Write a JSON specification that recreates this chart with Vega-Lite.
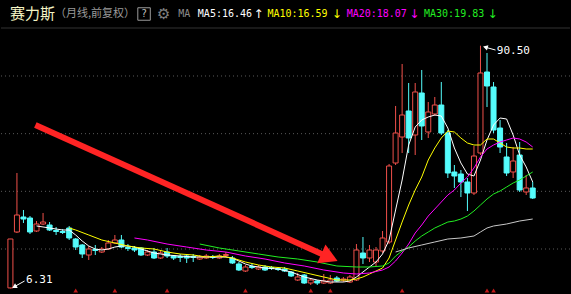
{
"$schema":"https://vega.github.io/schema/vega-lite/v6.json",
"width":571,"height":294,
"autosize":{"type":"fit","contains":"padding"},
"padding":0,
"background":"#000000",
"config":{"view":{"stroke":null}},
"resolve":{"scale":{"color":"independent","stroke":"independent","fill":"independent"}},
"datasets":{
"grid":[{"g":20},{"g":40},{"g":60},{"g":80}],
"k":[
{"i":0,"o":6.5,"h":23.5,"l":6.31,"c":23.47,"d":"up"},
{"i":1,"o":25.9,"h":46.36,"l":25.55,"c":31.79,"d":"up"},
{"i":2,"o":31.1,"h":33.53,"l":29.02,"c":30.4,"d":"down"},
{"i":3,"o":30.75,"h":31.44,"l":25.2,"c":25.9,"d":"down"},
{"i":4,"o":26.24,"h":29.71,"l":25.9,"c":28.67,"d":"up"},
{"i":5,"o":28.67,"h":32.49,"l":28.32,"c":29.36,"d":"up"},
{"i":6,"o":28.32,"h":29.36,"l":26.24,"c":26.59,"d":"down"},
{"i":7,"o":26.42,"h":27.63,"l":24.86,"c":26.07,"d":"down"},
{"i":8,"o":26.07,"h":26.94,"l":25.2,"c":25.72,"d":"down"},
{"i":9,"o":27.28,"h":27.98,"l":23.12,"c":23.82,"d":"down"},
{"i":10,"o":23.47,"h":23.82,"l":19.65,"c":20.69,"d":"down"},
{"i":11,"o":21.39,"h":21.73,"l":16.88,"c":18.27,"d":"down"},
{"i":12,"o":17.92,"h":21.04,"l":16.19,"c":20.0,"d":"up"},
{"i":13,"o":19.83,"h":21.39,"l":17.92,"c":19.48,"d":"down"},
{"i":14,"o":18.96,"h":20.69,"l":18.61,"c":20.0,"d":"up"},
{"i":15,"o":20.0,"h":23.12,"l":19.65,"c":22.08,"d":"up"},
{"i":16,"o":22.08,"h":24.86,"l":21.73,"c":23.12,"d":"up"},
{"i":17,"o":23.12,"h":24.86,"l":20.35,"c":20.69,"d":"down"},
{"i":18,"o":20.52,"h":21.73,"l":19.31,"c":20.17,"d":"down"},
{"i":19,"o":20.35,"h":21.04,"l":18.96,"c":19.65,"d":"down"},
{"i":20,"o":20.35,"h":20.69,"l":17.57,"c":17.92,"d":"down"},
{"i":21,"o":17.92,"h":19.65,"l":17.57,"c":18.96,"d":"up"},
{"i":22,"o":18.96,"h":20.35,"l":16.53,"c":16.88,"d":"down"},
{"i":23,"o":16.88,"h":19.31,"l":16.53,"c":18.61,"d":"up"},
{"i":24,"o":18.96,"h":20.35,"l":16.88,"c":17.57,"d":"down"},
{"i":25,"o":17.57,"h":17.92,"l":16.19,"c":16.88,"d":"down"},
{"i":26,"o":17.4,"h":18.27,"l":15.49,"c":17.05,"d":"down"},
{"i":27,"o":17.57,"h":17.92,"l":15.15,"c":16.88,"d":"down"},
{"i":28,"o":17.4,"h":18.27,"l":15.49,"c":17.05,"d":"down"},
{"i":29,"o":16.53,"h":17.92,"l":16.19,"c":17.23,"d":"up"},
{"i":30,"o":16.88,"h":18.27,"l":16.53,"c":17.57,"d":"up"},
{"i":31,"o":17.23,"h":17.92,"l":16.53,"c":17.05,"d":"down"},
{"i":32,"o":16.88,"h":18.27,"l":16.53,"c":17.57,"d":"up"},
{"i":33,"o":17.75,"h":18.96,"l":17.23,"c":18.1,"d":"up"},
{"i":34,"o":16.88,"h":17.57,"l":14.8,"c":15.15,"d":"down"},
{"i":35,"o":14.8,"h":15.49,"l":12.37,"c":12.72,"d":"down"},
{"i":36,"o":12.37,"h":14.45,"l":12.03,"c":13.76,"d":"up"},
{"i":37,"o":13.93,"h":14.8,"l":13.06,"c":13.58,"d":"down"},
{"i":38,"o":13.06,"h":14.45,"l":12.72,"c":13.76,"d":"up"},
{"i":39,"o":13.76,"h":14.45,"l":12.37,"c":12.72,"d":"down"},
{"i":40,"o":13.58,"h":14.11,"l":12.72,"c":13.24,"d":"down"},
{"i":41,"o":13.24,"h":13.76,"l":12.37,"c":12.89,"d":"down"},
{"i":42,"o":13.06,"h":13.76,"l":12.03,"c":12.37,"d":"down"},
{"i":43,"o":12.03,"h":12.37,"l":10.29,"c":10.64,"d":"down"},
{"i":44,"o":9.25,"h":11.68,"l":8.91,"c":10.29,"d":"up"},
{"i":45,"o":10.98,"h":11.33,"l":7.87,"c":8.21,"d":"down"},
{"i":46,"o":8.21,"h":9.94,"l":7.52,"c":9.25,"d":"up"},
{"i":47,"o":8.91,"h":9.25,"l":7.52,"c":8.21,"d":"down"},
{"i":48,"o":8.21,"h":11.33,"l":7.87,"c":8.91,"d":"up"},
{"i":49,"o":8.21,"h":10.98,"l":7.87,"c":9.25,"d":"up"},
{"i":50,"o":9.94,"h":10.64,"l":8.56,"c":8.9,"d":"down"},
{"i":51,"o":9.25,"h":10.29,"l":8.56,"c":9.6,"d":"up"},
{"i":52,"o":8.56,"h":10.98,"l":8.21,"c":10.29,"d":"up"},
{"i":53,"o":9.25,"h":21.73,"l":8.9,"c":19.65,"d":"up"},
{"i":54,"o":18.61,"h":24.16,"l":14.8,"c":16.88,"d":"down"},
{"i":55,"o":16.88,"h":21.39,"l":15.49,"c":19.65,"d":"up"},
{"i":56,"o":15.49,"h":20.69,"l":14.11,"c":19.65,"d":"up"},
{"i":57,"o":19.31,"h":26.24,"l":18.61,"c":23.82,"d":"up"},
{"i":58,"o":22.43,"h":49.48,"l":21.73,"c":48.79,"d":"up"},
{"i":59,"o":49.83,"h":69.6,"l":49.13,"c":60.23,"d":"up"},
{"i":60,"o":58.84,"h":84.16,"l":53.29,"c":66.47,"d":"up"},
{"i":61,"o":67.86,"h":77.57,"l":53.29,"c":58.5,"d":"down"},
{"i":62,"o":59.54,"h":77.57,"l":52.6,"c":74.45,"d":"up"},
{"i":63,"o":74.1,"h":82.08,"l":57.8,"c":62.66,"d":"down"},
{"i":64,"o":60.58,"h":70.98,"l":58.5,"c":67.51,"d":"up"},
{"i":65,"o":66.82,"h":72.72,"l":66.12,"c":69.94,"d":"up"},
{"i":66,"o":69.94,"h":77.92,"l":59.54,"c":60.23,"d":"down"},
{"i":67,"o":60.23,"h":61.27,"l":44.62,"c":46.36,"d":"down"},
{"i":68,"o":46.71,"h":49.13,"l":41.16,"c":45.32,"d":"down"},
{"i":69,"o":46.01,"h":47.4,"l":38.03,"c":43.24,"d":"down"},
{"i":70,"o":43.24,"h":44.62,"l":33.18,"c":39.42,"d":"down"},
{"i":71,"o":39.42,"h":55.72,"l":38.73,"c":52.25,"d":"up"},
{"i":72,"o":53.29,"h":90.5,"l":52.6,"c":81.04,"d":"up"},
{"i":73,"o":81.39,"h":87.97,"l":69.24,"c":76.53,"d":"down"},
{"i":74,"o":76.18,"h":77.92,"l":60.23,"c":61.27,"d":"down"},
{"i":75,"o":61.96,"h":64.74,"l":53.29,"c":55.37,"d":"down"},
{"i":76,"o":51.91,"h":56.76,"l":45.32,"c":46.36,"d":"down"},
{"i":77,"o":46.71,"h":55.37,"l":44.62,"c":50.52,"d":"up"},
{"i":78,"o":52.6,"h":57.11,"l":39.77,"c":40.46,"d":"down"},
{"i":79,"o":39.77,"h":45.66,"l":38.73,"c":41.16,"d":"up"},
{"i":80,"o":41.16,"h":43.24,"l":37.34,"c":37.69,"d":"down"}
],
"ma":[
{"i":4,"v":28.0,"m":"MA5"},{"i":6,"v":27.28,"m":"MA5"},{"i":8,"v":26.59,"m":"MA5"},{"i":9,"v":26.59,"m":"MA5"},{"i":10,"v":24.86,"m":"MA5"},{"i":11,"v":22.77,"m":"MA5"},{"i":12,"v":21.04,"m":"MA5"},{"i":13,"v":20.0,"m":"MA5"},{"i":14,"v":19.65,"m":"MA5"},{"i":15,"v":20.0,"m":"MA5"},{"i":16,"v":20.69,"m":"MA5"},{"i":17,"v":21.04,"m":"MA5"},{"i":18,"v":21.04,"m":"MA5"},{"i":19,"v":20.69,"m":"MA5"},{"i":20,"v":20.0,"m":"MA5"},{"i":21,"v":19.31,"m":"MA5"},{"i":22,"v":18.61,"m":"MA5"},{"i":23,"v":18.27,"m":"MA5"},{"i":24,"v":17.92,"m":"MA5"},{"i":26,"v":17.57,"m":"MA5"},{"i":28,"v":17.23,"m":"MA5"},{"i":30,"v":17.23,"m":"MA5"},{"i":32,"v":17.23,"m":"MA5"},{"i":33,"v":17.23,"m":"MA5"},{"i":34,"v":16.88,"m":"MA5"},{"i":35,"v":15.84,"m":"MA5"},{"i":36,"v":14.8,"m":"MA5"},{"i":37,"v":14.11,"m":"MA5"},{"i":38,"v":13.76,"m":"MA5"},{"i":39,"v":13.41,"m":"MA5"},{"i":41,"v":13.06,"m":"MA5"},{"i":43,"v":12.03,"m":"MA5"},{"i":45,"v":10.29,"m":"MA5"},{"i":47,"v":9.25,"m":"MA5"},{"i":49,"v":8.56,"m":"MA5"},{"i":51,"v":8.56,"m":"MA5"},{"i":52,"v":8.9,"m":"MA5"},{"i":53,"v":10.29,"m":"MA5"},{"i":54,"v":12.03,"m":"MA5"},{"i":55,"v":13.76,"m":"MA5"},{"i":56,"v":15.49,"m":"MA5"},{"i":57,"v":18.27,"m":"MA5"},{"i":58,"v":23.12,"m":"MA5"},{"i":59,"v":33.53,"m":"MA5"},{"i":60,"v":43.93,"m":"MA5"},{"i":61,"v":56.07,"m":"MA5"},{"i":62,"v":62.31,"m":"MA5"},{"i":63,"v":64.74,"m":"MA5"},{"i":64,"v":65.78,"m":"MA5"},{"i":65,"v":66.47,"m":"MA5"},{"i":66,"v":66.12,"m":"MA5"},{"i":67,"v":61.96,"m":"MA5"},{"i":68,"v":55.03,"m":"MA5"},{"i":69,"v":49.83,"m":"MA5"},{"i":70,"v":46.01,"m":"MA5"},{"i":71,"v":45.32,"m":"MA5"},{"i":72,"v":50.87,"m":"MA5"},{"i":73,"v":57.8,"m":"MA5"},{"i":74,"v":63.01,"m":"MA5"},{"i":75,"v":65.43,"m":"MA5"},{"i":76,"v":65.09,"m":"MA5"},{"i":77,"v":59.54,"m":"MA5"},{"i":78,"v":52.6,"m":"MA5"},{"i":79,"v":48.44,"m":"MA5"},{"i":80,"v":43.24,"m":"MA5"},
{"i":9,"v":27.28,"m":"MA10"},{"i":10,"v":26.59,"m":"MA10"},{"i":12,"v":24.86,"m":"MA10"},{"i":14,"v":23.12,"m":"MA10"},{"i":16,"v":22.08,"m":"MA10"},{"i":18,"v":21.04,"m":"MA10"},{"i":20,"v":20.35,"m":"MA10"},{"i":22,"v":20.0,"m":"MA10"},{"i":24,"v":18.96,"m":"MA10"},{"i":26,"v":18.27,"m":"MA10"},{"i":28,"v":17.92,"m":"MA10"},{"i":30,"v":17.23,"m":"MA10"},{"i":32,"v":17.57,"m":"MA10"},{"i":34,"v":16.88,"m":"MA10"},{"i":36,"v":15.49,"m":"MA10"},{"i":38,"v":14.45,"m":"MA10"},{"i":40,"v":13.76,"m":"MA10"},{"i":42,"v":13.41,"m":"MA10"},{"i":44,"v":12.37,"m":"MA10"},{"i":46,"v":11.33,"m":"MA10"},{"i":48,"v":10.29,"m":"MA10"},{"i":50,"v":9.25,"m":"MA10"},{"i":52,"v":9.25,"m":"MA10"},{"i":53,"v":9.6,"m":"MA10"},{"i":54,"v":10.29,"m":"MA10"},{"i":55,"v":11.33,"m":"MA10"},{"i":56,"v":12.37,"m":"MA10"},{"i":57,"v":13.41,"m":"MA10"},{"i":58,"v":16.88,"m":"MA10"},{"i":59,"v":23.12,"m":"MA10"},{"i":60,"v":29.36,"m":"MA10"},{"i":61,"v":35.26,"m":"MA10"},{"i":62,"v":40.46,"m":"MA10"},{"i":63,"v":44.97,"m":"MA10"},{"i":64,"v":50.87,"m":"MA10"},{"i":65,"v":55.03,"m":"MA10"},{"i":66,"v":58.5,"m":"MA10"},{"i":67,"v":60.92,"m":"MA10"},{"i":68,"v":60.58,"m":"MA10"},{"i":69,"v":58.5,"m":"MA10"},{"i":70,"v":56.76,"m":"MA10"},{"i":71,"v":56.07,"m":"MA10"},{"i":72,"v":56.07,"m":"MA10"},{"i":73,"v":58.15,"m":"MA10"},{"i":74,"v":58.15,"m":"MA10"},{"i":75,"v":56.76,"m":"MA10"},{"i":76,"v":55.37,"m":"MA10"},{"i":77,"v":55.03,"m":"MA10"},{"i":78,"v":55.03,"m":"MA10"},{"i":79,"v":54.68,"m":"MA10"},{"i":80,"v":54.68,"m":"MA10"},
{"i":19,"v":23.82,"m":"MA20"},{"i":21,"v":23.12,"m":"MA20"},{"i":24,"v":21.73,"m":"MA20"},{"i":27,"v":20.69,"m":"MA20"},{"i":30,"v":19.65,"m":"MA20"},{"i":33,"v":18.96,"m":"MA20"},{"i":36,"v":17.57,"m":"MA20"},{"i":39,"v":16.53,"m":"MA20"},{"i":42,"v":15.15,"m":"MA20"},{"i":45,"v":14.11,"m":"MA20"},{"i":48,"v":12.72,"m":"MA20"},{"i":51,"v":11.68,"m":"MA20"},{"i":53,"v":11.33,"m":"MA20"},{"i":55,"v":11.68,"m":"MA20"},{"i":57,"v":12.72,"m":"MA20"},{"i":58,"v":13.76,"m":"MA20"},{"i":59,"v":15.84,"m":"MA20"},{"i":60,"v":18.61,"m":"MA20"},{"i":61,"v":21.73,"m":"MA20"},{"i":62,"v":25.55,"m":"MA20"},{"i":63,"v":28.32,"m":"MA20"},{"i":64,"v":31.44,"m":"MA20"},{"i":65,"v":33.87,"m":"MA20"},{"i":66,"v":36.3,"m":"MA20"},{"i":67,"v":38.73,"m":"MA20"},{"i":68,"v":40.46,"m":"MA20"},{"i":69,"v":42.89,"m":"MA20"},{"i":70,"v":44.97,"m":"MA20"},{"i":71,"v":48.09,"m":"MA20"},{"i":72,"v":51.91,"m":"MA20"},{"i":73,"v":54.68,"m":"MA20"},{"i":74,"v":56.07,"m":"MA20"},{"i":75,"v":57.11,"m":"MA20"},{"i":76,"v":57.8,"m":"MA20"},{"i":77,"v":58.5,"m":"MA20"},{"i":78,"v":58.15,"m":"MA20"},{"i":79,"v":57.11,"m":"MA20"},{"i":80,"v":55.37,"m":"MA20"},
{"i":29,"v":21.73,"m":"MA30"},{"i":32,"v":20.35,"m":"MA30"},{"i":35,"v":19.31,"m":"MA30"},{"i":38,"v":18.27,"m":"MA30"},{"i":41,"v":17.23,"m":"MA30"},{"i":44,"v":16.53,"m":"MA30"},{"i":47,"v":15.49,"m":"MA30"},{"i":50,"v":14.11,"m":"MA30"},{"i":53,"v":13.76,"m":"MA30"},{"i":55,"v":13.76,"m":"MA30"},{"i":57,"v":14.11,"m":"MA30"},{"i":58,"v":15.15,"m":"MA30"},{"i":59,"v":17.57,"m":"MA30"},{"i":60,"v":19.31,"m":"MA30"},{"i":61,"v":20.69,"m":"MA30"},{"i":62,"v":22.77,"m":"MA30"},{"i":63,"v":24.51,"m":"MA30"},{"i":64,"v":25.9,"m":"MA30"},{"i":65,"v":27.28,"m":"MA30"},{"i":66,"v":28.32,"m":"MA30"},{"i":67,"v":29.36,"m":"MA30"},{"i":68,"v":29.71,"m":"MA30"},{"i":69,"v":30.4,"m":"MA30"},{"i":70,"v":31.44,"m":"MA30"},{"i":71,"v":33.18,"m":"MA30"},{"i":72,"v":35.26,"m":"MA30"},{"i":73,"v":37.34,"m":"MA30"},{"i":74,"v":39.07,"m":"MA30"},{"i":75,"v":40.11,"m":"MA30"},{"i":76,"v":41.5,"m":"MA30"},{"i":77,"v":42.89,"m":"MA30"},{"i":78,"v":43.93,"m":"MA30"},{"i":79,"v":45.32,"m":"MA30"},{"i":80,"v":46.71,"m":"MA30"},
{"i":59,"v":18.96,"m":"MA60"},{"i":61,"v":20.35,"m":"MA60"},{"i":63,"v":21.39,"m":"MA60"},{"i":65,"v":22.43,"m":"MA60"},{"i":67,"v":23.47,"m":"MA60"},{"i":69,"v":23.82,"m":"MA60"},{"i":71,"v":24.51,"m":"MA60"},{"i":72,"v":25.9,"m":"MA60"},{"i":73,"v":27.28,"m":"MA60"},{"i":74,"v":27.98,"m":"MA60"},{"i":76,"v":28.67,"m":"MA60"},{"i":78,"v":29.71,"m":"MA60"},{"i":80,"v":30.4,"m":"MA60"}
],
"marks":[{"i":10},{"i":16},{"i":24},{"i":36},{"i":46},{"i":49},{"i":60},{"i":73},{"i":74}]
},
"layer":[
{"data":{"name":"grid"},"mark":{"type":"rule","color":"#5a5a5a","strokeDash":[1,3],"strokeWidth":1},
 "encoding":{"y":{"field":"g","type":"quantitative","scale":{"domain":[4.396,106.355],"nice":false,"zero":false},"axis":null}}},
{"data":{"values":[{}]},"mark":{"type":"rule","color":"#333333","strokeWidth":1},
 "encoding":{"y":{"datum":96.64,"type":"quantitative","scale":{"domain":[4.396,106.355],"nice":false,"zero":false},"axis":null}}},
{"data":{"name":"k"},"mark":{"type":"rule","strokeWidth":1},
 "encoding":{
  "x":{"field":"i","type":"quantitative","scale":{"domain":[-0.675,84.945],"nice":false,"zero":false},"axis":null},
  "y":{"field":"l","type":"quantitative","scale":{"domain":[4.396,106.355],"nice":false,"zero":false},"axis":null},
  "y2":{"field":"h"},
  "stroke":{"field":"d","type":"nominal","scale":{"domain":["up","down"],"range":["#f0504a","#54fcfc"]},"legend":null}}},
{"data":{"name":"k"},"mark":{"type":"bar","size":5,"strokeWidth":1},
 "encoding":{
  "x":{"field":"i","type":"quantitative","scale":{"domain":[-0.675,84.945],"nice":false,"zero":false},"axis":null},
  "y":{"field":"o","type":"quantitative","scale":{"domain":[4.396,106.355],"nice":false,"zero":false},"axis":null},
  "y2":{"field":"c"},
  "fill":{"field":"d","type":"nominal","scale":{"domain":["up","down"],"range":["#000000","#54fcfc"]},"legend":null},
  "stroke":{"field":"d","type":"nominal","scale":{"domain":["up","down"],"range":["#f0504a","#54fcfc"]},"legend":null}}},
{"data":{"name":"ma"},"mark":{"type":"line","strokeWidth":1},
 "encoding":{
  "x":{"field":"i","type":"quantitative","scale":{"domain":[-0.675,84.945],"nice":false,"zero":false},"axis":null},
  "y":{"field":"v","type":"quantitative","scale":{"domain":[4.396,106.355],"nice":false,"zero":false},"axis":null},
  "color":{"field":"m","type":"nominal","scale":{"domain":["MA5","MA10","MA20","MA30","MA60"],"range":["#ffffff","#ffff00","#ff00ff","#22ee22","#c8c8c8"]},"legend":null},
  "order":{"field":"i","type":"quantitative"}}},
{"data":{"values":[{}]},"mark":{"type":"rule","color":"#ff2424","strokeWidth":6,"strokeCap":"butt"},
 "encoding":{
  "x":{"datum":3.82,"type":"quantitative","scale":{"domain":[-0.675,84.945],"nice":false,"zero":false},"axis":null},
  "x2":{"datum":48.87},
  "y":{"datum":63.0,"type":"quantitative","scale":{"domain":[4.396,106.355],"nice":false,"zero":false},"axis":null},
  "y2":{"datum":17.09}}},
{"data":{"values":[{}]},"mark":{"type":"point","shape":"triangle-right","filled":true,"color":"#ff2424","opacity":1,"size":420,"angle":23.75},
 "encoding":{
  "x":{"datum":48.87,"type":"quantitative","scale":{"domain":[-0.675,84.945],"nice":false,"zero":false},"axis":null},
  "y":{"datum":17.09,"type":"quantitative","scale":{"domain":[4.396,106.355],"nice":false,"zero":false},"axis":null}}},
{"data":{"name":"marks"},"mark":{"type":"point","shape":"triangle-up","filled":true,"color":"#c01818","opacity":1,"size":22},
 "encoding":{
  "x":{"field":"i","type":"quantitative","scale":{"domain":[-0.675,84.945],"nice":false,"zero":false},"axis":null},
  "y":{"datum":5.6,"type":"quantitative","scale":{"domain":[4.396,106.355],"nice":false,"zero":false},"axis":null}}},
{"data":{"values":[{}]},"mark":{"type":"rule","color":"#ffffff","strokeWidth":1},
 "encoding":{
  "x":{"datum":0.52,"type":"quantitative","scale":{"domain":[-0.675,84.945],"nice":false,"zero":false},"axis":null},
  "x2":{"datum":2.17},
  "y":{"datum":6.83,"type":"quantitative","scale":{"domain":[4.396,106.355],"nice":false,"zero":false},"axis":null},
  "y2":{"datum":8.9}}},
{"data":{"values":[{}]},"mark":{"type":"point","shape":"triangle-left","filled":true,"color":"#ffffff","opacity":1,"size":30,"angle":-29},
 "encoding":{
  "x":{"datum":0.6,"type":"quantitative","scale":{"domain":[-0.675,84.945],"nice":false,"zero":false},"axis":null},
  "y":{"datum":6.9,"type":"quantitative","scale":{"domain":[4.396,106.355],"nice":false,"zero":false},"axis":null}}},
{"data":{"values":[{}]},"mark":{"type":"text","text":"6.31","color":"#ffffff","font":"DejaVu Sans Mono","fontSize":11,"align":"left","baseline":"middle"},
 "encoding":{
  "x":{"datum":2.4,"type":"quantitative","scale":{"domain":[-0.675,84.945],"nice":false,"zero":false},"axis":null},
  "y":{"datum":9.25,"type":"quantitative","scale":{"domain":[4.396,106.355],"nice":false,"zero":false},"axis":null}}},
{"data":{"values":[{}]},"mark":{"type":"rule","color":"#ffffff","strokeWidth":1},
 "encoding":{
  "x":{"datum":72.65,"type":"quantitative","scale":{"domain":[-0.675,84.945],"nice":false,"zero":false},"axis":null},
  "x2":{"datum":74.3},
  "y":{"datum":90.05,"type":"quantitative","scale":{"domain":[4.396,106.355],"nice":false,"zero":false},"axis":null},
  "y2":{"datum":89.0}}},
{"data":{"values":[{}]},"mark":{"type":"point","shape":"triangle-left","filled":true,"color":"#ffffff","opacity":1,"size":30,"angle":15},
 "encoding":{
  "x":{"datum":72.75,"type":"quantitative","scale":{"domain":[-0.675,84.945],"nice":false,"zero":false},"axis":null},
  "y":{"datum":90.0,"type":"quantitative","scale":{"domain":[4.396,106.355],"nice":false,"zero":false},"axis":null}}},
{"data":{"values":[{}]},"mark":{"type":"text","text":"90.50","color":"#ffffff","font":"DejaVu Sans Mono","fontSize":11,"align":"left","baseline":"middle"},
 "encoding":{
  "x":{"datum":74.5,"type":"quantitative","scale":{"domain":[-0.675,84.945],"nice":false,"zero":false},"axis":null},
  "y":{"datum":88.67,"type":"quantitative","scale":{"domain":[4.396,106.355],"nice":false,"zero":false},"axis":null}}},
{"data":{"values":[{}]},"mark":{"type":"text","text":"赛力斯","color":"#f4f4c4","font":"Noto Sans CJK SC","fontSize":15,"align":"left","baseline":"middle"},
 "encoding":{
  "x":{"datum":-0.07,"type":"quantitative","scale":{"domain":[-0.675,84.945],"nice":false,"zero":false},"axis":null},
  "y":{"datum":101.67,"type":"quantitative","scale":{"domain":[4.396,106.355],"nice":false,"zero":false},"axis":null}}},
{"data":{"values":[{}]},"mark":{"type":"text","text":"（月线,前复权）","color":"#9a9a9a","font":"Noto Sans CJK SC","fontSize":11,"align":"left","baseline":"middle"},
 "encoding":{
  "x":{"datum":6.82,"type":"quantitative","scale":{"domain":[-0.675,84.945],"nice":false,"zero":false},"axis":null},
  "y":{"datum":101.67,"type":"quantitative","scale":{"domain":[4.396,106.355],"nice":false,"zero":false},"axis":null}}},
{"data":{"values":[{}]},"mark":{"type":"point","shape":"square","filled":false,"color":"#9a9a9a","opacity":1,"size":156,"strokeWidth":1},
 "encoding":{
  "x":{"datum":20.47,"type":"quantitative","scale":{"domain":[-0.675,84.945],"nice":false,"zero":false},"axis":null},
  "y":{"datum":101.5,"type":"quantitative","scale":{"domain":[4.396,106.355],"nice":false,"zero":false},"axis":null}}},
{"data":{"values":[{}]},"mark":{"type":"text","text":"?","color":"#bbbbbb","font":"DejaVu Sans","fontSize":10,"align":"center","baseline":"middle"},
 "encoding":{
  "x":{"datum":20.47,"type":"quantitative","scale":{"domain":[-0.675,84.945],"nice":false,"zero":false},"axis":null},
  "y":{"datum":101.5,"type":"quantitative","scale":{"domain":[4.396,106.355],"nice":false,"zero":false},"axis":null}}},
{"data":{"values":[{}]},"mark":{"type":"text","text":"⚙","color":"#808080","font":"DejaVu Sans","fontSize":15,"align":"center","baseline":"middle"},
 "encoding":{
  "x":{"datum":23.47,"type":"quantitative","scale":{"domain":[-0.675,84.945],"nice":false,"zero":false},"axis":null},
  "y":{"datum":101.67,"type":"quantitative","scale":{"domain":[4.396,106.355],"nice":false,"zero":false},"axis":null}}},
{"data":{"values":[{}]},"mark":{"type":"text","text":"MA","color":"#8c8c8c","font":"DejaVu Sans Mono","fontSize":10,"align":"left","baseline":"middle"},
 "encoding":{
  "x":{"datum":25.72,"type":"quantitative","scale":{"domain":[-0.675,84.945],"nice":false,"zero":false},"axis":null},
  "y":{"datum":101.67,"type":"quantitative","scale":{"domain":[4.396,106.355],"nice":false,"zero":false},"axis":null}}},
{"data":{"values":[{}]},"mark":{"type":"text","text":"MA5:16.46","color":"#ffffff","font":"DejaVu Sans Mono","fontSize":10,"align":"left","baseline":"middle"},
 "encoding":{
  "x":{"datum":28.71,"type":"quantitative","scale":{"domain":[-0.675,84.945],"nice":false,"zero":false},"axis":null},
  "y":{"datum":101.67,"type":"quantitative","scale":{"domain":[4.396,106.355],"nice":false,"zero":false},"axis":null}}},
{"data":{"values":[{}]},"mark":{"type":"text","text":"↑","color":"#ffffff","font":"DejaVu Sans","fontSize":12,"align":"center","baseline":"middle"},
 "encoding":{
  "x":{"datum":38.01,"type":"quantitative","scale":{"domain":[-0.675,84.945],"nice":false,"zero":false},"axis":null},
  "y":{"datum":101.67,"type":"quantitative","scale":{"domain":[4.396,106.355],"nice":false,"zero":false},"axis":null}}},
{"data":{"values":[{}]},"mark":{"type":"text","text":"MA10:16.59","color":"#ffff00","font":"DejaVu Sans Mono","fontSize":10,"align":"left","baseline":"middle"},
 "encoding":{
  "x":{"datum":39.36,"type":"quantitative","scale":{"domain":[-0.675,84.945],"nice":false,"zero":false},"axis":null},
  "y":{"datum":101.67,"type":"quantitative","scale":{"domain":[4.396,106.355],"nice":false,"zero":false},"axis":null}}},
{"data":{"values":[{}]},"mark":{"type":"text","text":"↓","color":"#ffff00","font":"DejaVu Sans","fontSize":12,"align":"center","baseline":"middle"},
 "encoding":{
  "x":{"datum":50.0,"type":"quantitative","scale":{"domain":[-0.675,84.945],"nice":false,"zero":false},"axis":null},
  "y":{"datum":101.67,"type":"quantitative","scale":{"domain":[4.396,106.355],"nice":false,"zero":false},"axis":null}}},
{"data":{"values":[{}]},"mark":{"type":"text","text":"MA20:18.07","color":"#ff00ff","font":"DejaVu Sans Mono","fontSize":10,"align":"left","baseline":"middle"},
 "encoding":{
  "x":{"datum":51.5,"type":"quantitative","scale":{"domain":[-0.675,84.945],"nice":false,"zero":false},"axis":null},
  "y":{"datum":101.67,"type":"quantitative","scale":{"domain":[4.396,106.355],"nice":false,"zero":false},"axis":null}}},
{"data":{"values":[{}]},"mark":{"type":"text","text":"↓","color":"#ff00ff","font":"DejaVu Sans","fontSize":12,"align":"center","baseline":"middle"},
 "encoding":{
  "x":{"datum":61.85,"type":"quantitative","scale":{"domain":[-0.675,84.945],"nice":false,"zero":false},"axis":null},
  "y":{"datum":101.67,"type":"quantitative","scale":{"domain":[4.396,106.355],"nice":false,"zero":false},"axis":null}}},
{"data":{"values":[{}]},"mark":{"type":"text","text":"MA30:19.83","color":"#22ee22","font":"DejaVu Sans Mono","fontSize":10,"align":"left","baseline":"middle"},
 "encoding":{
  "x":{"datum":63.35,"type":"quantitative","scale":{"domain":[-0.675,84.945],"nice":false,"zero":false},"axis":null},
  "y":{"datum":101.67,"type":"quantitative","scale":{"domain":[4.396,106.355],"nice":false,"zero":false},"axis":null}}},
{"data":{"values":[{}]},"mark":{"type":"text","text":"↓","color":"#22ee22","font":"DejaVu Sans","fontSize":12,"align":"center","baseline":"middle"},
 "encoding":{
  "x":{"datum":73.85,"type":"quantitative","scale":{"domain":[-0.675,84.945],"nice":false,"zero":false},"axis":null},
  "y":{"datum":101.67,"type":"quantitative","scale":{"domain":[4.396,106.355],"nice":false,"zero":false},"axis":null}}}
]
}
